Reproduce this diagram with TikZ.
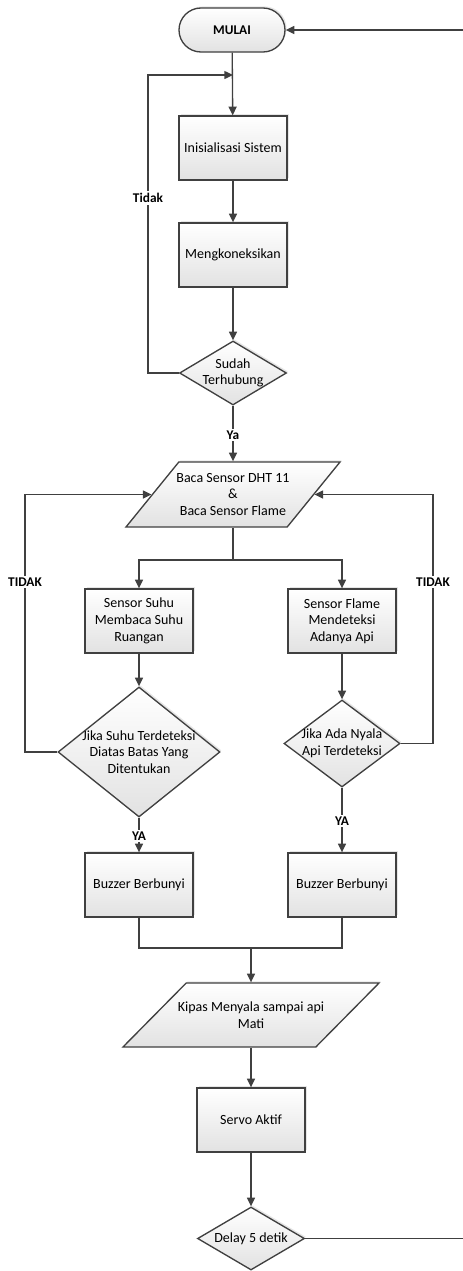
\documentclass[tikz,border=0pt]{standalone}
\usepackage{fontspec}
\setmainfont{Carlito}
\usetikzlibrary{shapes.geometric,shapes.misc,arrows.meta,shadows}

\definecolor{garisc}{HTML}{404040}
\definecolor{isic}{HTML}{E2E2E2}

\tikzset{every picture/.style={line width=0.75pt}}
\tikzset{
  dasar/.style={draw=garisc, line width=1pt, top color=white, bottom color=isic,
    drop shadow={shadow xshift=1.2pt, shadow yshift=1.2pt, opacity=0.2},
    inner sep=0pt, align=center, font=\fontsize{10.5}{12.5}\selectfont},
  proses/.style={dasar, rectangle, minimum width=81pt, minimum height=48pt},
  mulaibox/.style={dasar, rounded rectangle, minimum width=79.5pt, minimum height=33pt,
    font=\bfseries\fontsize{10}{12}\selectfont},
  cek/.style={dasar, diamond},
  io/.style={dasar, trapezium, trapezium left angle=64, trapezium right angle=116,
    trapezium stretches=true, inner sep=1pt},
  isi/.style={align=center, inner sep=0pt, font=\fontsize{10.5}{12.5}\selectfont},
  ket/.style={fill=white, inner sep=1.5pt, font=\bfseries\fontsize{10}{12}\selectfont},
  garis/.style={draw=garisc, line width=1pt},
  panah/.style={garis, -{Triangle[length=6.5pt,width=6pt]}},
}

\begin{document}
\begin{tikzpicture}[x=0.75pt,y=0.75pt,yscale=-1,xscale=1]

\useasboundingbox (0,0) rectangle (463,1271);

\node [mulaibox] (mulai) at (232,30) {MULAI};

\node [proses] (init) at (233,148) {Inisialisasi Sistem};

\node [proses] (konek) at (233,255) {Mengkoneksikan};

\node [cek, minimum width=80.25pt, minimum height=48pt] (sudah) at (233,373) {};
\node [isi] (sudaht) at (sudah) {Sudah\\Terhubung};

\node [io, minimum width=160.5pt, minimum height=48.75pt] (baca) at (233,494.5) {};
\node [isi] (bacat) at (baca) {Baca Sensor DHT 11\\\&\\Baca Sensor Flame};

\node [proses] (suhu) at (139,621) {Sensor Suhu\\Membaca Suhu\\Ruangan};

\node [proses] (flame) at (342,621) {Sensor Flame\\Mendeteksi\\Adanya Api};

\node [cek, minimum width=121.5pt, minimum height=97.5pt] (cek1) at (139,752) {};
\node [isi] (cek1t) at (cek1) {Jika Suhu Terdeteksi\\Diatas Batas Yang\\Ditentukan};

\node [cek, minimum width=87pt, minimum height=65.25pt] (cek2) at (342,743.5) {};
\node [isi] (cek2t) at (cek2) {Jika Ada Nyala\\Api Terdeteksi};

\node [proses] (buz1) at (139,885) {Buzzer Berbunyi};

\node [proses] (buz2) at (342,885) {Buzzer Berbunyi};

\node [io, minimum width=192pt, minimum height=48pt] (kipas) at (251,1015) {};
\node [isi] (kipast) at (kipas) {Kipas Menyala sampai api\\Mati};

\node [proses] (servo) at (251,1120) {Servo Aktif};

\node [cek, minimum width=80.25pt, minimum height=47.25pt] (delay) at (251,1238.5) {};
\node [isi] (delayt) at (delay) {Delay 5 detik};

\coordinate (j1) at (233,75);
\coordinate (lx0) at (148,300);
\coordinate (sp) at (233,560);
\coordinate (lx) at (25,600);
\coordinate (rx) at (433,600);
\coordinate (mg) at (251,948);
\coordinate (rt) at (465,600);

\draw [panah] (mulai) -- (init);
\draw [panah] (init) -- (konek);
\draw [panah] (konek) -- (sudah);
\draw [panah] (sudah.west) -- (sudah.west -| lx0) |- (j1);
\draw [panah] (sudah) -- (baca);

\draw [garis] (baca) -- (sp);
\draw [panah] (sp) -| (suhu);
\draw [panah] (sp) -| (flame);
\draw [panah] (suhu) -- (cek1);
\draw [panah] (flame) -- (cek2);
\draw [panah] (cek1.west) -- (cek1.west -| lx) |- (baca.west);
\draw [panah] (cek2.east) -- (cek2.east -| rx) |- (baca.east);
\draw [panah] (cek1) -- (buz1);
\draw [panah] (cek2) -- (buz2);

\draw [garis] (buz1.south) -- (buz1.south |- mg) -- (buz2.south |- mg) -- (buz2.south);
\draw [panah] (mg) -- (kipas);
\draw [panah] (kipas) -- (servo);
\draw [panah] (servo) -- (delay);
\draw [panah] (delay.east) -- (delay.east -| rt) |- (mulai.east);

\node [ket] (tidak1) at (148,198) {Tidak};
\node [ket] (ya1) at (233,435) {Ya};
\node [ket] (tidak2) at (25,582) {TIDAK};
\node [ket] (tidak3) at (433,582) {TIDAK};
\node [ket] (ya2) at (139,836) {YA};
\node [ket] (ya3) at (342,821) {YA};

\end{tikzpicture}
\end{document}
